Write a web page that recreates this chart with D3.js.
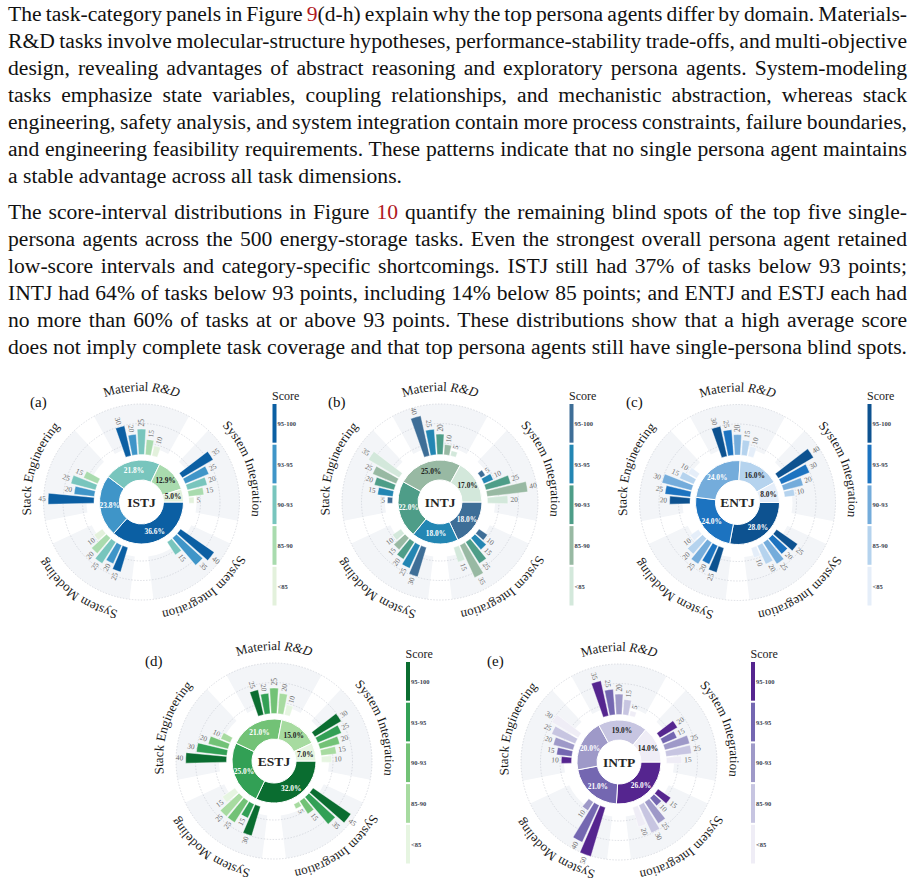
<!DOCTYPE html>
<html>
<head>
<meta charset="utf-8">
<title>Score-interval distributions</title>
<style>
  body { margin: 0; background: #fff; }
  svg { display: block; font-family: "Liberation Serif", "Times New Roman", serif; }
</style>
</head>
<body>
<script src="https://cdn.jsdelivr.net/npm/d3@7"></script>
<script>
var W = 916, H = 885;

// ---- data ----
var bins = ['95-100', '93-95', '90-93', '85-90', '<85'];
var categories = ['Material R&D', 'System Integration', 'System Integration', 'System Modeling', 'Stack Engineering'];
var personas = ['ISTJ', 'INTJ', 'ENTJ', 'ESTJ', 'INTP'];
var panelTags = ['(a)', '(b)', '(c)', '(d)', '(e)'];

// share of all tasks in each score bin (%)
var shareISTJ = [36.6, 23.8, 21.8, 12.9, 5.0];
var shareINTJ = [18.0, 18.0, 22.0, 25.0, 17.0];
var shareENTJ = [28.0, 24.0, 24.0, 16.0, 8.0];
var shareESTJ = [32.0, 25.0, 21.0, 15.0, 7.0];
var shareINTP = [26.0, 21.0, 20.0, 19.0, 14.0];

// per task category (rows, same order as categories) and score bin (columns)
var catISTJ = [[30, 20, 25, 15, 10], [35, 25, 20, 15, 5], [40, 35, 15, 0, 0], [25, 20, 25, 20, 10], [45, 20, 25, 15, 0]];
var catINTJ = [[40, 25, 20, 10, 5], [5, 10, 25, 40, 20], [10, 15, 25, 35, 15], [30, 25, 20, 15, 10], [5, 15, 20, 25, 35]];
var catENTJ = [[30, 25, 20, 15, 10], [40, 30, 20, 10, 0], [25, 20, 25, 20, 10], [25, 20, 25, 20, 10], [20, 25, 30, 15, 10]];
var catESTJ = [[25, 20, 25, 20, 10], [30, 25, 20, 15, 10], [45, 35, 15, 5, 0], [30, 15, 25, 25, 15], [40, 30, 20, 10, 0]];
var catINTP = [[35, 25, 20, 15, 5], [20, 15, 25, 25, 15], [15, 10, 25, 30, 20], [50, 40, 10, 0, 0], [10, 15, 20, 25, 30]];

var shares = [shareISTJ, shareINTJ, shareENTJ, shareESTJ, shareINTP];
var catValues = [catISTJ, catINTJ, catENTJ, catESTJ, catINTP];

// ---- styles / layout ----
var palettes = [
  ['#0b5fa3', '#3f95c8', '#78c5bd', '#a9dbae', '#e3f1dc'],
  ['#3e6e97', '#2386b3', '#4e9d88', '#98b9a3', '#d3e8db'],
  ['#0d5290', '#1c73c0', '#74acdb', '#b5d3ee', '#e5eef9'],
  ['#0a6d30', '#32a055', '#72c276', '#a7dba0', '#e6f5e1'],
  ['#55258f', '#7467b1', '#9e99c8', '#c7c5e1', '#efedf6']
];
var layout = [
  {cx: 141.5, cy: 502, lx: 272.5, ly: 399.5, tx: 30, ty: 407},
  {cx: 440, cy: 502, lx: 569.5, ly: 399.5, tx: 328, ty: 407},
  {cx: 737.5, cy: 502.5, lx: 867.5, ly: 399.5, tx: 626, ty: 407},
  {cx: 274, cy: 761, lx: 406, ly: 657.5, tx: 145, ty: 666},
  {cx: 619, cy: 762, lx: 751, ly: 657.5, tx: 487, ty: 666}
];

var para1 = [
  'The task-category panels in Figure {9}(d-h) explain why the top persona agents differ by domain. Materials-',
  'R&D tasks involve molecular-structure hypotheses, performance-stability trade-offs, and multi-objective',
  'design, revealing advantages of abstract reasoning and exploratory persona agents. System-modeling',
  'tasks emphasize state variables, coupling relationships, and mechanistic abstraction, whereas stack',
  'engineering, safety analysis, and system integration contain more process constraints, failure boundaries,',
  'and engineering feasibility requirements. These patterns indicate that no single persona agent maintains',
  'a stable advantage across all task dimensions.'
];
var para2 = [
  'The score-interval distributions in Figure {10} quantify the remaining blind spots of the top five single-',
  'persona agents across the 500 energy-storage tasks. Even the strongest overall persona agent retained',
  'low-score intervals and category-specific shortcomings. ISTJ still had 37% of tasks below 93 points;',
  'INTJ had 64% of tasks below 93 points, including 14% below 85 points; and ENTJ and ESTJ each had',
  'no more than 60% of tasks at or above 93 points. These distributions show that a high average score',
  'does not imply complete task coverage and that top persona agents still have single-persona blind spots.'
];

var svg = d3.select('body')
            .append('svg')
            .attr('width', W)
            .attr('height', H);

// ---- body text ----
function drawLines(lines, y0, justifyLast) {
  lines.forEach(function(ln, i) {
    var t = svg.append('text')
               .attr('x', 8)
               .attr('y', y0 + i * 27.1)
               .attr('font-size', 21.6)
               .attr('fill', '#111');
    ln.split(/(\{\d+\})/).forEach(function(part) {
      if (!part) return;
      var m = part.match(/^\{(\d+)\}$/);
      t.append('tspan')
       .text(m ? m[1] : part)
       .attr('fill', m ? '#b0191e' : '#111');
    });
    if (i < lines.length - 1 || justifyLast) {
      var natural = t.node().getComputedTextLength();
      var spaces = (ln.match(/ /g) || []).length;
      t.attr('word-spacing', (899 - natural) / spaces);
    }
  });
}
drawLines(para1, 20.5, false);
drawLines(para2, 218.8, true);

// ---- radial panels ----
var deg = Math.PI / 180;
var catBand = d3.scaleBand().domain(d3.range(5)).range([-36 * deg, 324 * deg]);
var binBand = d3.scaleBand().domain(bins).range([-20 * deg, 20 * deg])
                .paddingInner(0.15).paddingOuter(0.075);
var rScale = d3.scaleLinear().domain([0, 50]).range([47.5, 98.5]);

function catCenter(i) { return catBand(i) + catBand.bandwidth() / 2; }

function drawPanel(p) {
  var L = layout[p], colors = palettes[p];
  var g = svg.append('g').attr('transform', 'translate(' + L.cx + ',' + L.cy + ')');

  // sector backgrounds
  g.selectAll('path.bg')
   .data(d3.range(5))
   .enter()
   .append('path')
   .attr('class', 'bg')
   .attr('d', function(i) {
     return d3.arc()({innerRadius: 55, outerRadius: 98,
       startAngle: catCenter(i) - 29 * deg, endAngle: catCenter(i) + 29 * deg});
   })
   .attr('fill', '#f3f5f8');

  // dotted rings
  g.selectAll('circle.grid')
   .data([59, 78.5, 98])
   .enter()
   .append('circle')
   .attr('r', d => d)
   .attr('fill', 'none')
   .attr('stroke', '#c6cad1')
   .attr('stroke-width', 0.6)
   .attr('stroke-dasharray', '1.5,1.5');

  // bars
  var barData = [];
  catValues[p].forEach(function(row, ci) {
    row.forEach(function(v, bi) {
      barData.push({cat: ci, bin: bins[bi], bi: bi, v: v,
        a: catCenter(ci) + binBand(bins[bi]) + binBand.bandwidth() / 2});
    });
  });
  barData = barData.filter(d => d.v > 0);

  g.selectAll('path.bar')
   .data(barData)
   .enter()
   .append('path')
   .attr('class', 'bar')
   .attr('d', d => d3.arc()({innerRadius: rScale(0), outerRadius: rScale(d.v),
       startAngle: d.a - binBand.bandwidth() / 2, endAngle: d.a + binBand.bandwidth() / 2}))
   .attr('fill', d => colors[d.bi])
   .attr('stroke', '#fff')
   .attr('stroke-width', 0.4);

  g.selectAll('text.val')
   .data(barData)
   .enter()
   .append('text')
   .attr('class', 'val')
   .attr('transform', function(d) {
     var r = rScale(d.v) + 2.5;
     var x = r * Math.sin(d.a), y = -r * Math.cos(d.a);
     var ad = ((d.a / deg) % 360 + 360) % 360;
     var rot = ad < 180 ? ad - 90 : ad - 270;
     return 'translate(' + x + ',' + y + ') rotate(' + rot + ')';
   })
   .attr('text-anchor', function(d) {
     var ad = ((d.a / deg) % 360 + 360) % 360;
     return ad < 180 ? 'start' : 'end';
   })
   .attr('dominant-baseline', 'central')
   .attr('font-size', 7.4)
   .attr('fill', '#6b6b6b')
   .text(d => d.v);

  // inner donut of overall shares
  var pie = d3.pie().sort(null).startAngle(Math.PI / 2).endAngle(Math.PI / 2 + 2 * Math.PI);
  var arcs = pie(shares[p]);
  var donut = d3.arc().innerRadius(22).outerRadius(42);
  g.selectAll('path.seg')
   .data(arcs)
   .enter()
   .append('path')
   .attr('class', 'seg')
   .attr('d', donut)
   .attr('fill', (d, i) => colors[i])
   .attr('stroke', '#fff')
   .attr('stroke-width', 1);
  var lab = d3.arc().innerRadius(32).outerRadius(32);
  g.selectAll('text.pct')
   .data(arcs)
   .enter()
   .append('text')
   .attr('class', 'pct')
   .attr('transform', d => 'translate(' + lab.centroid(d) + ')')
   .attr('text-anchor', 'middle')
   .attr('dominant-baseline', 'central')
   .attr('font-size', 7.4)
   .attr('font-weight', 'bold')
   .attr('fill', (d, i) => i < 3 ? '#ffffff' : '#222')
   .text(d => d.data.toFixed(1) + '%');

  g.append('text')
   .attr('text-anchor', 'middle')
   .attr('dominant-baseline', 'central')
   .attr('font-size', 13.5)
   .attr('font-weight', 'bold')
   .attr('fill', '#262626')
   .text(personas[p]);

  // curved category labels
  var R = 111;
  categories.forEach(function(name, ci) {
    var c = catCenter(ci), a1 = c - 60 * deg, a2 = c + 60 * deg;
    var id = 'lab' + p + '_' + ci;
    g.append('path')
     .attr('id', id)
     .attr('fill', 'none')
     .attr('d', 'M' + (R * Math.sin(a1)) + ',' + (-R * Math.cos(a1)) +
                ' A' + R + ',' + R + ' 0 0 1 ' + (R * Math.sin(a2)) + ',' + (-R * Math.cos(a2)));
    var tp = g.append('text')
              .attr('font-size', 13)
              .attr('fill', '#1a1a1a')
              .append('textPath')
              .attr('href', '#' + id)
              .attr('startOffset', '50%')
              .attr('text-anchor', 'middle');
    if (name.indexOf('R&D') >= 0) {
      tp.append('tspan').text(name.replace('R&D', ''));
      tp.append('tspan').attr('font-style', 'italic').text('R&D');
    } else {
      tp.text(name);
    }
  });

  // panel tag
  svg.append('text')
     .attr('x', L.tx)
     .attr('y', L.ty)
     .attr('font-size', 15)
     .attr('fill', '#111')
     .text(panelTags[p]);

  // legend
  var lg = svg.append('g').attr('transform', 'translate(' + L.lx + ',' + L.ly + ')');
  lg.append('text')
    .attr('x', -0.5)
    .attr('y', 0)
    .attr('font-size', 12)
    .attr('fill', '#222')
    .text('Score');
  var ly = d3.scaleBand().domain(bins).range([4.5, 4.5 + 201.5]).paddingInner(0.05);
  lg.selectAll('rect')
    .data(bins)
    .enter()
    .append('rect')
    .attr('x', 0)
    .attr('y', d => ly(d))
    .attr('width', 4)
    .attr('height', ly.bandwidth())
    .attr('fill', (d, i) => colors[i]);
  lg.selectAll('text.lbl')
    .data(bins)
    .enter()
    .append('text')
    .attr('class', 'lbl')
    .attr('x', 5)
    .attr('y', d => ly(d) + ly.bandwidth() / 2)
    .attr('dominant-baseline', 'central')
    .attr('font-size', 6.5)
    .attr('font-weight', 'bold')
    .attr('fill', '#3a4350')
    .text(d => d);
}

d3.range(5).forEach(drawPanel);
</script>
</body>
</html>
